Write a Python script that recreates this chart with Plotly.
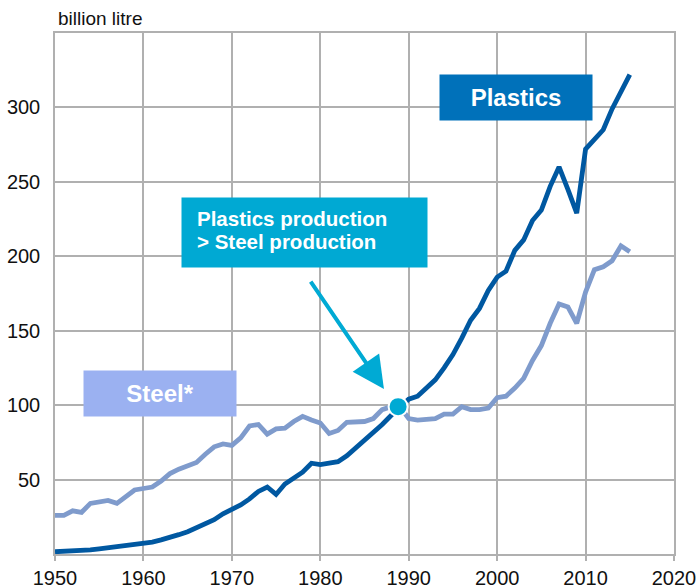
import plotly.graph_objects as go

years = list(range(1950, 2016))
plastics = [1.5, 1.7, 2, 2.3, 2.8, 3.5, 4.2, 4.8, 5.5, 6.3, 7, 8, 9.5, 11, 13, 15, 17.5, 20, 23, 27, 30,
            33, 37, 42, 45, 40, 47, 51, 55, 61, 60, 61, 62, 66, 71, 76, 81, 87, 93, 99,
            104, 106, 111, 117, 125, 134, 145, 157, 165, 177, 186, 190, 204, 211, 224, 231, 247, 260, 245, 229,
            272, 278, 285, 299, 311, 322]
steel = [26, 26, 29, 28, 34, 35, 36, 34, 38.5, 43, 44, 45, 49, 54, 57, 59, 61.5, 67, 72, 74, 73,
         78, 86, 87, 80.5, 84, 84.5, 89, 92.5, 90, 88, 81, 83, 88.5, 89, 89, 91, 97, 99, 99,
         91, 90, 90.5, 91, 94, 94, 99, 97, 97, 98, 105, 106, 111.5, 118, 130, 140, 155, 168, 166, 155,
         176, 191, 193, 197, 207, 203]
x_ticks = [1950, 1960, 1970, 1980, 1990, 2000, 2010, 2020]
y_ticks = [50, 100, 150, 200, 250, 300]
cross_year = [1988.8]
cross_value = [99]

FONT = "Arial, Liberation Sans, Helvetica, sans-serif"
GRID = "#b0b0b0"

fig = go.Figure()
fig.add_trace(go.Scatter(x=years, y=steel, mode="lines",
                         line=dict(color="#7f9bcc", width=4.8), hoverinfo="skip"))
fig.add_trace(go.Scatter(x=years, y=plastics, mode="lines",
                         line=dict(color="#0058a1", width=4.8), hoverinfo="skip"))
fig.add_trace(go.Scatter(x=cross_year, y=cross_value, mode="markers",
                         marker=dict(color="#00aad4", size=19, line=dict(color="white", width=2)),
                         hoverinfo="skip"))

fig.update_layout(
    width=698, height=588,
    margin=dict(l=55, r=24, t=33, b=34, autoexpand=False),
    paper_bgcolor="white", plot_bgcolor="white",
    showlegend=False,
    font=dict(family=FONT, size=20, color="#111111"),
    xaxis=dict(range=[1950, 2020], tickvals=x_ticks, showgrid=True, gridcolor=GRID, gridwidth=1.5,
               showline=True, linecolor=GRID, linewidth=1.5, mirror=True, zeroline=False,
               ticks="outside", ticklen=5, tickcolor=GRID, tickwidth=1.5,
               ticklabeloverflow="allow",
               tickfont=dict(size=20, color="#111111")),
    yaxis=dict(range=[0, 350], tickvals=y_ticks, showgrid=True, gridcolor=GRID, gridwidth=1.5,
               showline=True, linecolor=GRID, linewidth=1.5, mirror=True, zeroline=False,
               ticks="outside", ticklen=9, tickcolor="rgba(0,0,0,0)",
               tickfont=dict(size=20, color="#111111")),
    annotations=[
        dict(text="billion litre", xref="paper", yref="paper", x=0.0, y=1.0, xanchor="left",
             yanchor="bottom", yshift=2, xshift=1, showarrow=False, font=dict(size=19, color="#111111")),
        dict(text="<b>Plastics</b>", x=2002.1, y=306.6, xref="x", yref="y", showarrow=False,
             bgcolor="#0071ba", width=152, height=45, borderpad=0,
             font=dict(size=24, color="white")),
        dict(text="<b>Steel*</b>", x=1961.9, y=107.8, xref="x", yref="y", showarrow=False,
             bgcolor="#9bb1f1", width=152, height=45, borderpad=0,
             font=dict(size=24, color="white")),
        dict(text=" ", x=1978.2, y=215.9, xref="x", yref="y", showarrow=False,
             bgcolor="#00a9d3", width=245, height=69, borderpad=0, font=dict(size=10)),
        dict(text="<b>Plastics production</b>", x=1965.8, y=225.4, xref="x", yref="y",
             xanchor="left", showarrow=False, font=dict(size=20.5, color="white")),
        dict(text="<b>&gt; Steel production</b>", x=1965.8, y=209.9, xref="x", yref="y",
             xanchor="left", showarrow=False, font=dict(size=20.5, color="white")),
        dict(text="", x=1987.2, y=110.8, ax=1978.8, ay=184, xref="x", yref="y",
             axref="x", ayref="y", showarrow=True, arrowhead=2, arrowsize=1.6,
             arrowwidth=4, arrowcolor="#00aad4"),
    ],
)

# remove the default 8px page margin so the 698x588 figure fills the window exactly
fig.write_html("out.html", config={"displayModeBar": False},
               post_script="document.body.style.margin='0';document.body.style.overflow='hidden';")
